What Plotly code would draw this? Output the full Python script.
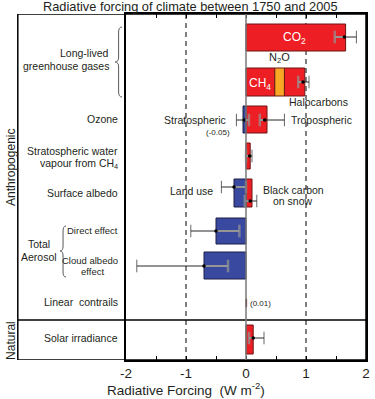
import plotly.graph_objects as go

# ---------------- data ----------------
red_names = ["CO2", "CH4", "Halocarbons", "Tropospheric ozone", "Stratospheric water vapour",
             "Black carbon on snow", "Linear contrails", "Solar irradiance"]
red_values = [1.66, 0.48, 0.34, 0.35, 0.07, 0.10, 0.01, 0.12]

blue_names = ["Stratospheric ozone", "Land use", "Direct effect", "Cloud albedo effect"]
blue_values = [-0.05, -0.20, -0.50, -0.70]

orange_names = ["N2O"]
orange_values = [0.16]

err_names = ["CO2", "LLGHG", "Stratospheric ozone", "Tropospheric ozone", "Strat. water vapour",
             "Land use", "Black carbon on snow", "Direct effect", "Cloud albedo effect", "Solar irradiance"]
err_mid = [1.64, 0.95, -0.03, 0.31, 0.06, -0.20, 0.07, -0.50, -0.70, 0.12]
err_lo = [1.48, 0.87, -0.16, 0.23, 0.00, -0.41, -0.02, -0.92, -1.82, 0.05]
err_hi = [1.84, 1.05, 0.05, 0.64, 0.10, 0.00, 0.18, -0.11, -0.30, 0.30]

tick_vals = [-2, -1, 0, 1, 2]
tick_text = ["-2", "-1", "0", "1", "2"]
minor_vals = [-1.5, -0.5, 0.5, 1.5]

# ---------------- layout helpers (row positions in pixel-like y units) ----------------
red_rows = [37.5, 82, 82, 119.5, 156, 193, 303, 339.5]
red_heights = [27, 28, 28, 27, 26, 28, 8, 29]
red_base = [0, 0, red_values[1] + orange_values[0], 0, 0, 0, 0, 0]
blue_rows = [119.5, 193, 231, 265.5]
blue_heights = [27, 28, 26, 27]
orange_rows = [82]
orange_base = [red_values[1]]
err_rows = [37, 82, 120, 120, 156, 187, 201, 231, 266, 338]

L, R, T, B = 126, 5, 14, 39
W, H = 375, 399
PW = W - L - R


def px(xpix):
    return (xpix - L) / PW


def pyp(ypix):
    return ((H - B) - ypix) / (H - B - T)


RED = "rgb(237,30,36)"
BLUE = "rgb(58,73,160)"
ORANGE = "rgb(248,168,36)"
TXT = "#231f20"
FONT = "Liberation Sans, Arial, sans-serif"

fig = go.Figure()

fig.add_trace(go.Bar(x=red_values, y=red_rows, base=red_base, width=red_heights, orientation="h",
                     marker=dict(color=RED, line=dict(color="rgb(110,20,20)", width=1)),
                     hoverinfo="skip"))
fig.add_trace(go.Bar(x=blue_values, y=blue_rows, base=[0] * len(blue_values), width=blue_heights,
                     orientation="h",
                     marker=dict(color=BLUE, line=dict(color="rgb(30,30,70)", width=1)),
                     hoverinfo="skip"))
fig.add_trace(go.Bar(x=orange_values, y=orange_rows, base=orange_base, width=[28], orientation="h",
                     marker=dict(color=ORANGE, line=dict(color="rgb(110,20,20)", width=1)),
                     hoverinfo="skip"))

# error bars: grey half toward zero, black half away from zero
gx, gy, gs = [], [], []
kx, ky, ks = [], [], []
for m, lo, hi, yy in zip(err_mid, err_lo, err_hi, err_rows):
    if m >= 0:
        inner, outer = lo, hi
    else:
        inner, outer = hi, lo
    gx += [inner, m, None]
    gy += [yy, yy, None]
    gs += [9, 0, 0]
    kx += [outer, m, None]
    ky += [yy, yy, None]
    ks += [9, 0, 0]

fig.add_trace(go.Scatter(x=gx, y=gy, mode="lines+markers",
                         line=dict(color="rgb(150,150,150)", width=2),
                         marker=dict(symbol="line-ns", size=gs,
                                     line=dict(color="rgb(150,150,150)", width=2.5)),
                         hoverinfo="skip"))
fig.add_trace(go.Scatter(x=kx, y=ky, mode="lines+markers",
                         line=dict(color="rgb(40,40,40)", width=1),
                         marker=dict(symbol="line-ns", size=ks,
                                     line=dict(color="rgb(40,40,40)", width=1)),
                         hoverinfo="skip"))
fig.add_trace(go.Scatter(x=err_mid, y=err_rows, mode="markers",
                         marker=dict(color="black", size=3.5), hoverinfo="skip"))

shapes = []
# outer box
shapes.append(dict(type="rect", xref="paper", yref="y", x0=px(16), x1=1, y0=14, y1=360,
                   line=dict(color="black", width=1.5), layer="above"))
# separator anthropogenic / natural
shapes.append(dict(type="line", xref="paper", yref="y", x0=px(16), x1=1, y0=320, y1=320,
                   line=dict(color="black", width=1.5), layer="above"))
# dashed lines
for xv in [-1, 1]:
    shapes.append(dict(type="line", xref="x", yref="y", x0=xv, x1=xv, y0=14, y1=360,
                       line=dict(color="black", width=1, dash="5px,4px"), layer="below"))
# zero line
shapes.append(dict(type="line", xref="x", yref="y", x0=0, x1=0, y0=14, y1=360,
                   line=dict(color="rgb(120,120,120)", width=1.5), layer="above"))


def brace(x_tip, x_end, y0, y1, ym, r=5):
    xt, xe = px(x_tip), px(x_end)
    xs = px(x_tip + 0.5 * (x_end - x_tip))
    return (f"M {xe},{y0} Q {xs},{y0} {xs},{y0 + r} L {xs},{ym - r} "
            f"Q {xs},{ym} {xt},{ym} Q {xs},{ym} {xs},{ym + r} "
            f"L {xs},{y1 - r} Q {xs},{y1} {xe},{y1}")


shapes.append(dict(type="path", xref="paper", yref="y", path=brace(115, 122, 27, 97, 62),
                   line=dict(color="rgb(90,90,90)", width=1)))
shapes.append(dict(type="path", xref="paper", yref="y", path=brace(59, 65, 226, 277, 251),
                   line=dict(color="rgb(90,90,90)", width=1)))

ann = []


def left_label(text, y, x=120, anchor="right", size=10.5):
    ann.append(dict(text=text, xref="paper", yref="y", x=px(x), y=y, xanchor=anchor,
                    yanchor="middle", showarrow=False, font=dict(size=size, color=TXT)))


left_label("Long-lived", 53, x=111)
left_label("greenhouse gases", 66, x=111)
left_label("Ozone", 119)
left_label("Stratospheric water", 151)
left_label("vapour from CH<sub>4</sub>", 164)
left_label("Surface albedo", 193)
left_label("Direct effect", 230, size=9.5)
left_label("Cloud albedo", 260, size=9.5)
left_label("effect", 271, x=92, anchor="center", size=9.5)
left_label("Total", 244, x=38, anchor="center", size=10.5)
left_label("Aerosol", 257, x=38, anchor="center", size=10.5)
left_label("Linear  contrails", 302)
left_label("Solar irradiance", 338)

ann.append(dict(text="Anthropogenic", xref="paper", yref="y", x=px(9), y=167, textangle=-90,
                xanchor="center", yanchor="middle", showarrow=False,
                font=dict(size=12, color=TXT)))
ann.append(dict(text="Natural", xref="paper", yref="y", x=px(9), y=340, textangle=-90,
                xanchor="center", yanchor="middle", showarrow=False,
                font=dict(size=12, color=TXT)))


def in_label(text, x, y, anchor="center", size=10.5, color=TXT):
    ann.append(dict(text=text, xref="x", yref="y", x=x, y=y, xanchor=anchor, yanchor="middle",
                    showarrow=False, font=dict(size=size, color=color)))


in_label("CO<sub>2</sub>", 0.80, 38, size=12, color="white")
in_label("CH<sub>4</sub>", 0.23, 84, size=12, color="white")
in_label("N<sub>2</sub>O", 0.56, 58, size=11)
in_label("Halocarbons", 1.20, 102)
in_label("Stratospheric", -0.30, 120, anchor="right")
in_label("(-0.05)", -0.46, 132, size=8)
in_label("Tropospheric", 0.72, 120, anchor="left")
in_label("Land use", -0.91, 191)
in_label("Black carbon", 0.79, 189.5)
in_label("on snow", 0.79, 200.5)
in_label("(0.01)", 0.04, 303, anchor="left", size=8)

ann.append(dict(text="Radiative forcing of climate between 1750 and 2005", xref="paper",
                yref="paper", x=px(191.5), y=pyp(6.5), xanchor="center", yanchor="middle",
                showarrow=False, font=dict(size=12.8, color=TXT)))
ann.append(dict(text="Radiative Forcing  (W m<sup>-2</sup>)", xref="paper", yref="paper",
                x=px(187.5), y=pyp(389), xanchor="center", yanchor="middle", showarrow=False,
                font=dict(size=13.5, color=TXT)))

fig.update_layout(
    width=W, height=H,
    margin=dict(l=L, r=R, t=T, b=B, pad=0),
    paper_bgcolor="white", plot_bgcolor="white",
    showlegend=False, barmode="overlay",
    font=dict(family=FONT, color=TXT),
    shapes=shapes, annotations=ann,
    xaxis=dict(range=[-2, 2], tickvals=tick_vals, ticktext=tick_text, ticks="inside",
               ticklen=4, tickcolor="black", tickwidth=1, showline=True, linecolor="black",
               linewidth=1.5, mirror="ticks", showgrid=False, zeroline=False,
               tickfont=dict(size=13.5, color=TXT),
               minor=dict(tickvals=minor_vals, ticks="inside", ticklen=4, tickcolor="black",
                          showgrid=False)),
    yaxis=dict(range=[360, 14], showticklabels=False, ticks="", showline=True,
               linecolor="black", linewidth=1.5, mirror=True, showgrid=False, zeroline=False),
)

fig.write_html("out.html", config={"displayModeBar": False},
               post_script="document.body.style.margin='0';document.body.style.overflow='hidden';")
